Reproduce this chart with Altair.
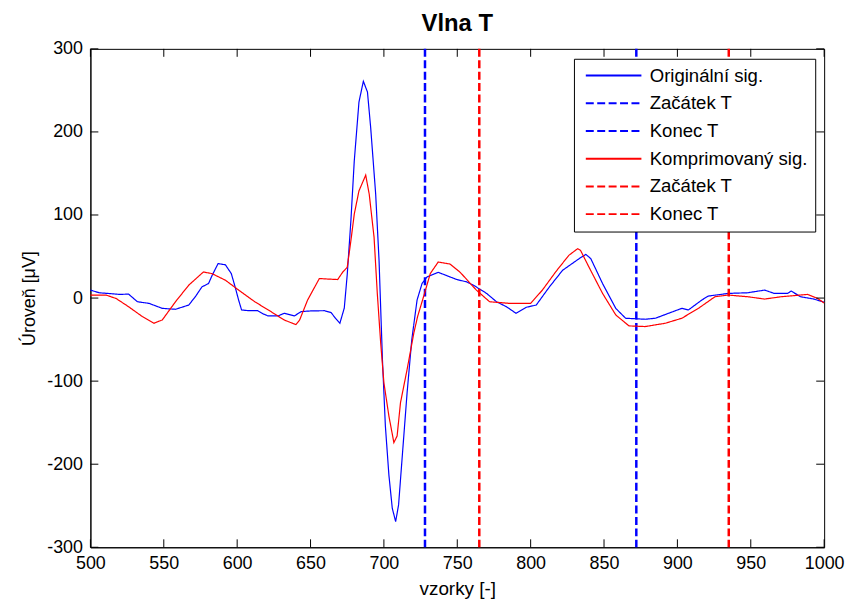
import altair as alt
import pandas as pd

FONT = "Liberation Sans"

# ---- data ----
orig_x = [500, 506, 520, 526, 532, 540, 549, 558, 567, 571.5, 576, 580.5, 583, 587, 592, 596,
          598.6, 601, 603, 607.6, 614, 617.7, 621, 628, 632, 639, 643.6, 650, 659.5, 664, 667,
          670, 673, 675, 677.5, 679.8, 683, 686, 688.8, 691, 694.4, 696.7, 699, 701, 703.4,
          705.7, 708, 710, 712.4, 715.8, 719, 722.6, 726, 729.4, 737, 745, 749.7, 756.4, 761,
          770, 776.7, 783.5, 790, 797, 803.8, 812.8, 821.8, 833, 837.6, 841, 849, 858, 864.7,
          878, 885, 894, 903, 907.5, 916.6, 921, 934.6, 948, 959.4, 966, 975, 977.5, 984, 993,
          999, 1000]
orig_y = [9.6, 6.4, 4.4, 4.8, -4.4, -6.4, -12.4, -13.5, -8.4, 1.6, 13.5, 17.5, 27.5, 41.5, 40,
          29.5, 13.5, -2.4, -14.3, -15.2, -15.2, -19, -21.5, -21.5, -18.3, -21.5, -16.3, -15.5,
          -15.2, -17.5, -24.3, -30.3, -12, 28, 93, 165, 236, 261, 248, 205, 125, 45, -74, -154,
          -213, -253, -269, -249, -193, -114, -50, -2.4, 17.5, 25.5, 31, 25.5, 22.3, 19.5, 15.5,
          5.6, -4.4, -10.4, -18.3, -11.1, -8.4, 13.5, 33.5, 47.4, 52.6, 47.4, 17.5, -12.4, -24.3,
          -25.5, -24.3, -18.3, -12.4, -14.3, -2.4, 2.4, 5.6, 6.4, 9.6, 5.6, 5.6, 8.4, 1.6, -1.2,
          -4.4, -5]

comp_x = [500, 510.6, 517.4, 526, 535.4, 543.3, 549, 558, 567, 577, 582.7, 592, 601, 612, 623,
          632, 640, 642.6, 648, 656, 664, 668.5, 672, 675, 677.5, 679.8, 683, 687.6, 690, 693.3,
          695.5, 697.8, 700, 703.4, 706.8, 709, 711.3, 715.8, 720.4, 723, 727, 731.6, 737, 745,
          752, 763, 772, 785.7, 800, 808, 817, 826, 832, 834, 839.7, 849, 858, 867, 878, 891.8,
          903, 914.3, 925.6, 934.6, 948, 959.4, 970.7, 988.7, 995.5, 1000]
comp_y = [3.6, 3.6, -0.4, -10.4, -22.3, -30.3, -26.3, -4.4, 15.5, 31.4, 29.5, 21.5, 9.6, -4.4,
          -16.3, -26.3, -32, -26.3, -2.4, 23.5, 22.7, 22.3, 31.4, 37, 69, 101, 129, 148, 125, 73,
          5.6, -54, -102, -142, -174, -166, -126, -86, -42, -22, 1.6, 29.5, 43.4, 41, 31, 9.6,
          -4.4, -6.4, -6.4, 9.6, 31.4, 51.4, 59.4, 57.4, 37.4, 5.6, -20.3, -33.5, -34.3, -30.3,
          -24.3, -12.4, 1.6, 3.6, 1.6, -1.2, 1.6, 4.4, -0.4, -6]

orig_marks_x = [728, 872]
comp_marks_x = [765, 935]

series_names = ["Originální sig.", "Začátek T", "Konec T",
                "Komprimovaný sig.", "Začátek T ", "Konec T "]
series_colors = ["#0000ff", "#0000ff", "#0000ff", "#ff0000", "#ff0000", "#ff0000"]
series_dash = [[1, 0], [8, 3.5], [8, 3.5], [1, 0], [8, 3.5], [8, 3.5]]

x_ticks = [500, 550, 600, 650, 700, 750, 800, 850, 900, 950, 1000]
y_ticks = [-300, -200, -100, 0, 100, 200, 300]

W, H = 739, 502
TICK = 8
SIG_W, MARK_W = 1.2, 2.5

# ---- tables ----
df_orig = pd.DataFrame({"x": orig_x, "y": orig_y, "s": series_names[0]})
df_comp = pd.DataFrame({"x": comp_x, "y": comp_y, "s": series_names[3]})
df_omarks = pd.DataFrame({"x": orig_marks_x, "s": [series_names[1], series_names[2]]})
df_cmarks = pd.DataFrame({"x": comp_marks_x, "s": [series_names[4], series_names[5]]})
df_xt = pd.DataFrame({"v": x_ticks})
df_yt = pd.DataFrame({"v": y_ticks})

legend = alt.Legend(
    orient="none", legendX=487, legendY=10, title=None,
    symbolType="M-5,0H51", symbolSize=4, symbolStrokeWidth=2,
    labelFontSize=18.7, labelFont=FONT, labelColor="black",
    strokeColor="black", fillColor="white", padding=7.6,
    rowPadding=7.9, labelOffset=50, symbolOpacity=1,
)

xs = alt.Scale(domain=[500, 1000], nice=False, zero=False)
ys = alt.Scale(domain=[-300, 300], nice=False, zero=False)

x_axis = alt.Axis(values=x_ticks, title="vzorky [-]", grid=False, ticks=False,
                  labelPadding=7, labelFontSize=18, titleFontSize=19, titleFontWeight="normal",
                  labelFont=FONT, titleFont=FONT, titlePadding=8, domainColor="black",
                  labelColor="black", titleColor="black", labelFlush=False,
                  labelOverlap=False, labelExpr="datum.value + ''")
y_axis = alt.Axis(values=y_ticks, title="Úroveň [μV]", grid=False, ticks=False,
                  labelPadding=8, labelFontSize=18, titleFontSize=18, titleFontWeight="normal",
                  labelFont=FONT, titleFont=FONT, titlePadding=8, domainColor="black",
                  labelColor="black", titleColor="black", labelFlush=False,
                  labelOverlap=False, labelExpr="datum.value + ''")

color = alt.Color("s:N", scale=alt.Scale(domain=series_names, range=series_colors), legend=legend)
dash = alt.StrokeDash("s:N", scale=alt.Scale(domain=series_names, range=series_dash), legend=legend)

line_orig = alt.Chart(df_orig).mark_line(strokeWidth=SIG_W).encode(
    x=alt.X("x:Q", scale=xs, axis=x_axis), y=alt.Y("y:Q", scale=ys, axis=y_axis),
    color=color, strokeDash=dash)
rule_orig = alt.Chart(df_omarks).mark_rule(strokeWidth=MARK_W).encode(
    x=alt.X("x:Q", scale=xs), color=color, strokeDash=dash)
line_comp = alt.Chart(df_comp).mark_line(strokeWidth=SIG_W).encode(
    x=alt.X("x:Q", scale=xs), y=alt.Y("y:Q", scale=ys),
    color=color, strokeDash=dash)
rule_comp = alt.Chart(df_cmarks).mark_rule(strokeWidth=MARK_W).encode(
    x=alt.X("x:Q", scale=xs), color=color, strokeDash=dash)

tick_style = dict(color="black", strokeWidth=1)
t_bottom = alt.Chart(df_xt).mark_rule(**tick_style).encode(
    x=alt.X("v:Q", scale=xs), y=alt.value(H), y2=alt.value(H - TICK))
t_top = alt.Chart(df_xt).mark_rule(**tick_style).encode(
    x=alt.X("v:Q", scale=xs), y=alt.value(0), y2=alt.value(TICK))
t_left = alt.Chart(df_yt).mark_rule(**tick_style).encode(
    y=alt.Y("v:Q", scale=ys), x=alt.value(0), x2=alt.value(TICK))
t_right = alt.Chart(df_yt).mark_rule(**tick_style).encode(
    y=alt.Y("v:Q", scale=ys), x=alt.value(W), x2=alt.value(W - TICK))

chart = alt.layer(
    line_orig, rule_orig, line_comp, rule_comp, t_bottom, t_top, t_left, t_right
).properties(
    width=W, height=H,
    title=alt.Title("Vlna T", fontSize=24, fontWeight="bold", font=FONT, color="black",
                    anchor="middle", offset=4),
    autosize=alt.AutoSizeParams(type="none"),
    padding={"left": 83, "top": 39, "right": 21, "bottom": 58},
).configure_view(stroke="black", strokeWidth=1)

chart.save("out.html", embed_options={"renderer": "svg", "actions": False})
